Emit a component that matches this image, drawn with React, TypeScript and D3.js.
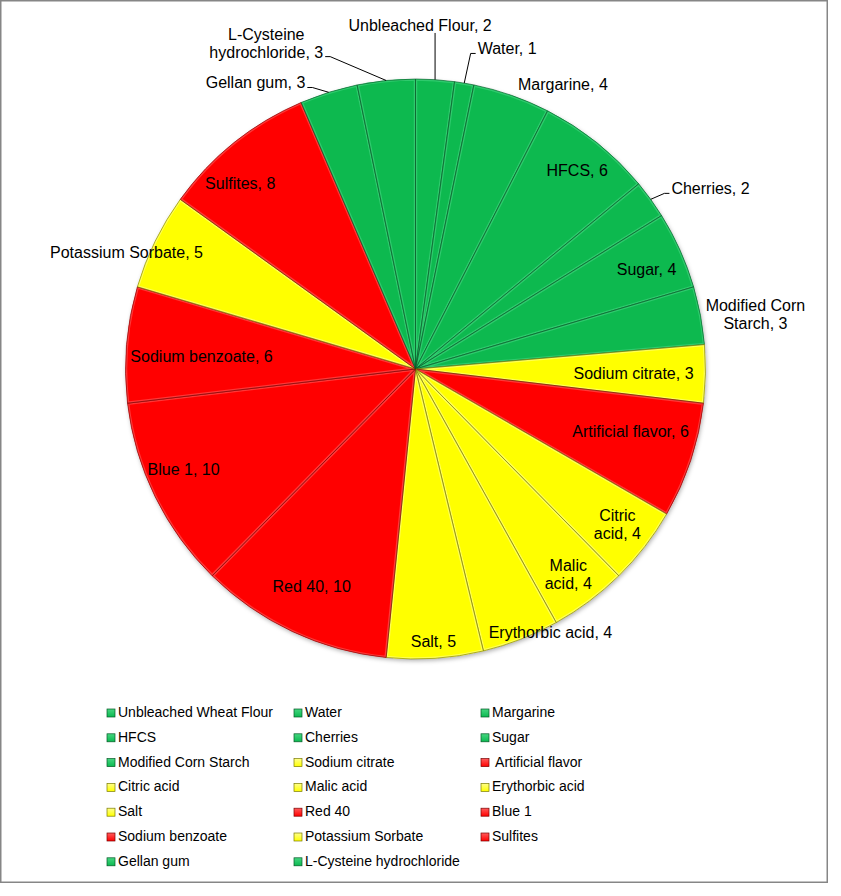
import React, { useEffect, useRef } from 'react';
import * as d3 from 'd3';

// legend names, pie label text and values (clockwise from 12 o'clock)
const ingredients = [
  'Unbleached Wheat Flour', 'Water', 'Margarine', 'HFCS', 'Cherries', 'Sugar',
  'Modified Corn Starch', 'Sodium citrate', ' Artificial flavor', 'Citric acid',
  'Malic acid', 'Erythorbic acid', 'Salt', 'Red 40', 'Blue 1', 'Sodium benzoate',
  'Potassium Sorbate', 'Sulfites', 'Gellan gum', 'L-Cysteine hydrochloride',
];
const pieLabels = [
  'Unbleached Flour', 'Water', 'Margarine', 'HFCS', 'Cherries', 'Sugar',
  'Modified Corn\nStarch', 'Sodium citrate', 'Artificial flavor', 'Citric\nacid',
  'Malic\nacid', 'Erythorbic acid', 'Salt', 'Red 40', 'Blue 1', 'Sodium benzoate',
  'Potassium Sorbate', 'Sulfites', 'Gellan gum', 'L-Cysteine\nhydrochloride',
];
const values = [2, 1, 4, 6, 2, 4, 3, 3, 6, 4, 4, 4, 5, 10, 10, 6, 5, 8, 3, 3];
const rating = ['g', 'g', 'g', 'g', 'g', 'g', 'g', 'y', 'r', 'y', 'y', 'y', 'y', 'r', 'r', 'r', 'y', 'r', 'g', 'g'];

// label placement: angle nudge (deg), radius factor, leader type
const labelLayout: [number, number, string][] = [
  [-3.1, 1.183, 'up'], [6.3, 1.148, 'right'], [8.0, 1.106, 'none'], [0.4, 0.884, 'none'],
  [4.4, 1.192, 'right'], [0.8, 0.868, 'none'], [1.6, 1.187, 'none'], [0.3, 0.752, 'none'],
  [-2.3, 0.772, 'none'], [-0.2, 0.878, 'none'], [0.1, 0.882, 'none'], [-5.8, 1.022, 'none'],
  [0.1, 0.94, 'none'], [0.4, 0.83, 'none'], [2.8, 0.871, 'none'], [-1.6, 0.739, 'none'],
  [-4.1, 1.075, 'none'], [-4.6, 0.881, 'none'], [-11.8, 1.13, 'left'], [-18.8, 1.236, 'left'],
];

const palette: Record<string, { fill: string; light: string; dark: string }> = {
  g: { fill: '#0bb950', light: '#45d680', dark: '#045a26' },
  y: { fill: '#ffff00', light: '#ffff8c', dark: '#7a7a00' },
  r: { fill: '#ff0000', light: '#ff5c5c', dark: '#7a0000' },
};

const W = 841;
const H = 896;
const FONT = '"Liberation Sans", Arial, sans-serif';

const App: React.FC = () => {
  const ref = useRef<SVGSVGElement | null>(null);

  useEffect(() => {
    if (!ref.current) return;
    const svg = d3.select(ref.current);
    svg.selectAll('*').remove();

    const cx = 415.5;
    const cy = 369;
    const R = 290;

    const defs = svg.append('defs');
    const shadow = defs.append('filter').attr('id', 'pieShadow')
      .attr('x', '-10%').attr('y', '-10%').attr('width', '120%').attr('height', '120%');
    shadow.append('feDropShadow').attr('dx', 1).attr('dy', 2).attr('stdDeviation', 2)
      .attr('flood-color', '#000').attr('flood-opacity', 0.3);

    Object.entries(palette).forEach(([k, c]) => {
      const lg = defs.append('linearGradient').attr('id', `lg-${k}`)
        .attr('x1', 0).attr('y1', 0).attr('x2', 0).attr('y2', 1);
      lg.append('stop').attr('offset', '0%').attr('stop-color', c.light);
      lg.append('stop').attr('offset', '100%').attr('stop-color', c.fill);
    });

    // chart border
    svg.append('rect')
      .attr('x', 0.75).attr('y', 0.75).attr('width', 826.5).attr('height', 881.5)
      .attr('fill', '#fff').attr('stroke', '#868686').attr('stroke-width', 1.5);

    const pie = d3.pie<number>().sort(null).value(d => d).startAngle(0).endAngle(2 * Math.PI);
    const arcs = pie(values);
    const arc = d3.arc<d3.PieArcDatum<number>>().innerRadius(0).outerRadius(R);

    const g = svg.append('g').attr('transform', `translate(${cx},${cy})`);
    const slices = g.append('g').attr('filter', 'url(#pieShadow)');

    arcs.forEach((a, i) => {
      const c = palette[rating[i]];
      const d = arc(a) || '';
      defs.append('clipPath').attr('id', `clip-${i}`).append('path').attr('d', d);
      slices.append('path').attr('d', d).attr('fill', c.fill);
    });
    // bevel highlight + edge lines
    arcs.forEach((a, i) => {
      const c = palette[rating[i]];
      const d = arc(a) || '';
      g.append('path').attr('d', d)
        .attr('fill', 'none').attr('stroke', c.light).attr('stroke-width', 3.5)
        .attr('stroke-opacity', 0.6)
        .attr('clip-path', `url(#clip-${i})`);
      g.append('path').attr('d', d)
        .attr('fill', 'none').attr('stroke', c.dark).attr('stroke-width', 0.9)
        .attr('stroke-opacity', 0.7);
    });

    // data labels
    const labels = svg.append('g').attr('font-family', FONT).attr('font-size', 16).attr('fill', '#000');
    arcs.forEach((a, i) => {
      const [dA, k, leader] = labelLayout[i];
      const midRaw = (a.startAngle + a.endAngle) / 2;
      const mid = midRaw + (dA * Math.PI) / 180;
      const lx = cx + k * R * Math.sin(mid);
      const ly = cy - k * R * Math.cos(mid);
      const lines = `${pieLabels[i]}, ${values[i]}`.split('\n');
      const lh = 18;
      const top = ly - ((lines.length - 1) * lh) / 2;
      const t = labels.append('text').attr('text-anchor', 'middle');
      lines.forEach((ln, j) => {
        t.append('tspan').attr('x', lx).attr('y', top + j * lh + 5.5).text(ln);
      });

      if (leader === 'none') return;
      const sx = cx + R * Math.sin(midRaw);
      const sy = cy - R * Math.cos(midRaw);
      const lastY = top + (lines.length - 1) * lh;
      const tspans = t.selectAll<SVGTSpanElement, unknown>('tspan').nodes();
      const lastW = tspans[tspans.length - 1].getComputedTextLength();
      let pts: [number, number][] = [];
      if (leader === 'up') {
        pts = [[sx, sy], [sx, ly + 7]];
      } else if (leader === 'right') {
        const left = lx - lastW / 2;
        pts = [[sx, sy], [left - 7, lastY + 4.5], [left - 2, lastY + 4.5]];
      } else {
        const right = lx + lastW / 2;
        pts = [[sx, sy], [right + 7, lastY + 4.5], [right + 2, lastY + 4.5]];
      }
      svg.append('path')
        .attr('d', d3.line()(pts) || '')
        .attr('fill', 'none').attr('stroke', '#000').attr('stroke-width', 1);
    });

    // legend
    const colX = [107, 294, 481];
    const rowY0 = 712;
    const rowH = 24.8;
    const leg = svg.append('g').attr('font-family', FONT).attr('font-size', 14);
    ingredients.forEach((name, i) => {
      const col = i % 3;
      const row = Math.floor(i / 3);
      const x = colX[col];
      const y = rowY0 + row * rowH;
      const c = palette[rating[i]];
      leg.append('rect')
        .attr('x', x).attr('y', y - 3).attr('width', 8).attr('height', 8)
        .attr('fill', `url(#lg-${rating[i]})`).attr('stroke', c.dark).attr('stroke-width', 0.7);
      leg.append('text')
        .attr('x', x + 11).attr('y', y + 5)
        .attr('fill', '#000')
        .style('white-space', 'pre')
        .text(name);
    });
  }, []);

  return (
    <svg
      ref={ref}
      width={W}
      height={H}
      style={{ position: 'absolute', left: 0, top: 0, background: '#fff' }}
    />
  );
};

export default App;
